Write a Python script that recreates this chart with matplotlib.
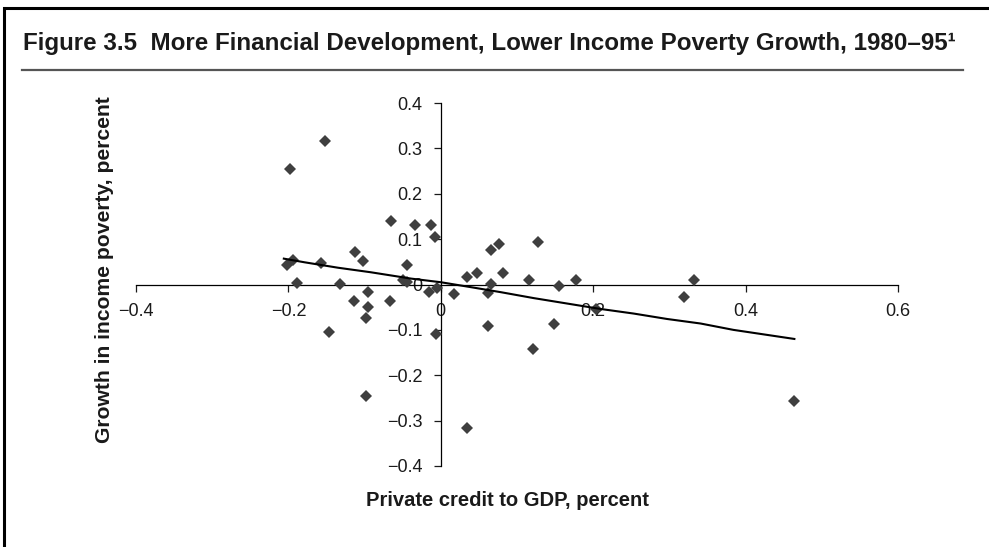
import matplotlib.pyplot as plt
from matplotlib import font_manager
from matplotlib.lines import Line2D

# scatter: private credit to GDP (x) vs growth in income poverty (y)
credit = [-0.198, -0.152, -0.202, -0.194, -0.157, -0.189, -0.132, -0.113, -0.102, -0.114,
          -0.096, -0.096, -0.098, -0.067, -0.147, -0.098, -0.066, -0.034, -0.013, -0.008,
          -0.044, -0.050, -0.044, -0.015, -0.005, 0.017, -0.006, 0.034, 0.047, 0.066,
          0.077, 0.081, 0.066, 0.062, 0.062, 0.034, 0.127, 0.116, 0.155, 0.178,
          0.149, 0.121, 0.204, 0.332, 0.319, 0.464]
poverty = [0.254, 0.316, 0.043, 0.055, 0.048, 0.004, 0.002, 0.071, 0.052, -0.037,
           -0.017, -0.049, -0.074, -0.037, -0.105, -0.245, 0.139, 0.131, 0.131, 0.104,
           0.044, 0.011, 0.005, -0.017, -0.007, -0.022, -0.109, 0.016, 0.025, 0.075,
           0.089, 0.025, 0.001, -0.018, -0.091, -0.317, 0.094, 0.011, -0.004, 0.011,
           -0.087, -0.143, -0.053, 0.011, -0.027, -0.256]

# smoothed trend line
trend_x = [-0.206, -0.179, -0.135, -0.092, -0.039, 0.0, 0.040, 0.079, 0.122, 0.166,
           0.210, 0.253, 0.297, 0.341, 0.384, 0.428, 0.464]
trend_y = [0.057, 0.049, 0.037, 0.027, 0.013, 0.005, -0.006, -0.017, -0.030, -0.042,
           -0.054, -0.064, -0.076, -0.086, -0.100, -0.111, -0.120]

x_ticks = [-0.4, -0.2, 0, 0.2, 0.4, 0.6]
x_labels = ['\u22120.4', '\u22120.2', '0', '0.2', '0.4', '0.6']
y_ticks = [-0.4, -0.3, -0.2, -0.1, 0, 0.1, 0.2, 0.3, 0.4]
y_labels = ['\u22120.4', '\u22120.3', '\u22120.2', '\u22120.1', '0', '0.1', '0.2', '0.3', '0.4']

title = 'Figure 3.5  More Financial Development, Lower Income Poverty Growth, 1980\u201395\u00b9'

names = {f.name for f in font_manager.fontManager.ttflist}
title_font = 'Liberation Sans Narrow' if 'Liberation Sans Narrow' in names else 'Liberation Sans'
plt.rcParams['font.family'] = ['Liberation Sans', 'DejaVu Sans']

W, H = 989, 547
fig = plt.figure(figsize=(W / 100, H / 100), dpi=100)

# axes box: x -0.4..0.6 -> px 136..898, y 0.4..-0.4 -> px 103..466
ax = fig.add_axes([136 / W, 1 - 466 / H, (898 - 136) / W, (466 - 103) / H])
ax.set_xlim(-0.4, 0.6)
ax.set_ylim(-0.4, 0.4)

ax.plot(credit, poverty, linestyle='none', marker='D', markersize=6,
        color='#3f3f3f', markeredgewidth=0, zorder=3)
ax.plot(trend_x, trend_y, color='black', linewidth=1.5, zorder=4)

for s in ['top', 'right']:
    ax.spines[s].set_visible(False)
ax.spines['left'].set_position(('data', 0))
ax.spines['bottom'].set_position(('data', 0))
ax.spines['left'].set_linewidth(0.9)
ax.spines['bottom'].set_linewidth(0.9)

ax.set_xticks(x_ticks)
ax.set_xticklabels(x_labels)
ax.set_yticks(y_ticks)
ax.set_yticklabels(y_labels)
ax.tick_params(axis='both', direction='out', length=5, width=0.9, labelsize=13,
               colors='#1a1a1a')
ax.tick_params(axis='x', pad=8)
ax.tick_params(axis='y', pad=8)

fig.text(507 / W, 1 - 500 / H, 'Private credit to GDP, percent', ha='center', va='center',
         fontsize=14.5, fontweight='bold', color='#1a1a1a')
fig.text(105 / W, 1 - 270 / H, 'Growth in income poverty, percent', ha='center', va='center',
         rotation=90, fontsize=15.2, fontweight='bold', color='#1a1a1a')

# title and rule
fig.text(23 / W, 1 - 50 / H, title, ha='left', va='baseline', fontsize=17.4,
         fontweight='bold', family=[title_font, 'DejaVu Sans'], color='#1a1a1a')
fig.add_artist(Line2D([22 / W, 963 / W], [1 - 70 / H, 1 - 70 / H], color='#555555',
                      linewidth=1.6, transform=fig.transFigure))

# outer frame (left and top)
fig.add_artist(Line2D([4 / W, 4 / W, 1.0], [0.0, 1 - 8 / H, 1 - 8 / H], color='black',
                      linewidth=2.2, transform=fig.transFigure, solid_joinstyle='miter'))

fig.savefig('out.png', dpi=100)
